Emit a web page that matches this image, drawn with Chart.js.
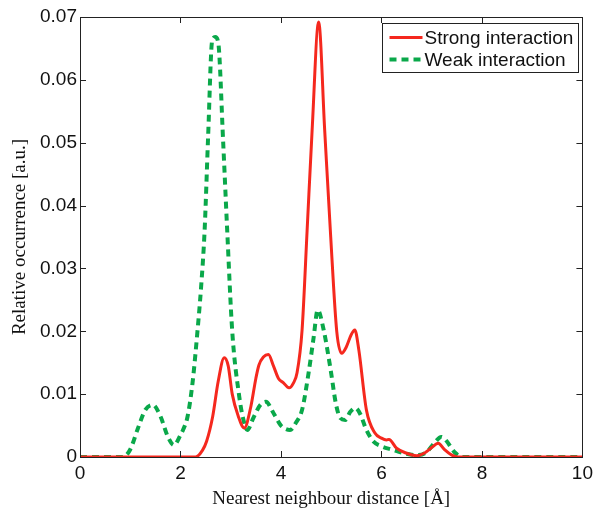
<!DOCTYPE html>
<html>
<head>
<meta charset="utf-8">
<script src="https://cdn.jsdelivr.net/npm/chart.js@4/dist/chart.umd.min.js"></script>
<style>
  html, body { margin: 0; padding: 0; background: #fff; }
  #wrap { width: 598px; height: 510px; }
</style>
</head>
<body>
<div id="wrap"><canvas id="grafico"></canvas></div>
<script>
// ================= DADOS =================
const xTicks = [0, 2, 4, 6, 8, 10];
const yTicks = [0, 0.01, 0.02, 0.03, 0.04, 0.05, 0.06, 0.07];

const distStrong = [0, 1, 2, 2.3, 2.44, 2.52, 2.64, 2.75, 2.87, 2.95, 3.03, 3.15, 3.27, 3.4, 3.5, 3.56, 3.65, 3.75, 3.85, 3.95, 4.05, 4.16, 4.25, 4.32, 4.42, 4.52, 4.62, 4.75, 4.87, 4.99, 5.11, 5.21, 5.3, 5.4, 5.47, 5.55, 5.7, 5.87, 6.0, 6.1, 6.15, 6.3, 6.5, 6.7, 6.85, 7.0, 7.13, 7.25, 7.4, 7.52, 8, 10];
const occStrong  = [0, 0, 0, 0, 0.0011, 0.0025, 0.0064, 0.012, 0.0158, 0.0145, 0.010, 0.0065, 0.0046, 0.008, 0.0125, 0.0146, 0.0159, 0.0163, 0.0145, 0.0125, 0.0118, 0.0110, 0.0118, 0.0134, 0.0202, 0.036, 0.052, 0.0692, 0.052, 0.035, 0.020, 0.0165, 0.0175, 0.0195, 0.0202, 0.017, 0.0075, 0.0038, 0.003, 0.0027, 0.0028, 0.0014, 0.0006, 0.0002, 0.0006, 0.0015, 0.0022, 0.0012, 0.0003, 0, 0, 0];

const distWeak = [0, 0.85, 1.0, 1.15, 1.3, 1.45, 1.6, 1.75, 1.87, 2.0, 2.05, 2.14, 2.24, 2.34, 2.41, 2.48, 2.55, 2.63, 2.69, 2.75, 2.85, 2.93, 3.03, 3.17, 3.25, 3.33, 3.45, 3.58, 3.7, 3.85, 4.0, 4.18, 4.3, 4.42, 4.55, 4.65, 4.73, 4.85, 4.99, 5.09, 5.18, 5.28, 5.38, 5.48, 5.58, 5.7, 5.85, 6.0, 6.2, 6.45, 6.7, 6.9, 7.05, 7.19, 7.3, 7.45, 7.62, 10];
const occWeak  = [0, 0, 0.0012, 0.0045, 0.0075, 0.0083, 0.0065, 0.0032, 0.0019, 0.0035, 0.0043, 0.0064, 0.0118, 0.0202, 0.027, 0.036, 0.051, 0.0662, 0.0668, 0.066, 0.050, 0.036, 0.020, 0.0096, 0.006, 0.0043, 0.0062, 0.0082, 0.0088, 0.0070, 0.0050, 0.0043, 0.0055, 0.0075, 0.0134, 0.019, 0.0234, 0.0202, 0.0138, 0.0086, 0.0062, 0.0059, 0.0072, 0.0078, 0.0068, 0.0043, 0.0024, 0.0017, 0.0012, 0.0006, 0.0003, 0.0008, 0.0022, 0.0032, 0.0025, 0.0008, 0, 0];

const nomes = ['Strong interaction', 'Weak interaction'];
const cores = ['#f5281e', '#0aa84a'];

const fonteSans = 'Liberation Sans, Arial, sans-serif';
const fonteSerif = 'Liberation Serif, Times New Roman, serif';

function pontos(xs, ys) {
  return xs.map((x, i) => ({ x: x, y: ys[i] }));
}

// ================= MOLDURA + TICKS PARA DENTRO =================
const molduraPlugin = {
  id: 'moldura',
  afterDraw(chart) {
    const { ctx, chartArea: a, scales } = chart;
    const tl = 6;
    ctx.save();
    ctx.strokeStyle = '#222';
    ctx.lineWidth = 1;
    ctx.beginPath();
    xTicks.forEach(v => {
      const px = Math.round(scales.x.getPixelForValue(v)) + 0.5;
      ctx.moveTo(px, a.bottom); ctx.lineTo(px, a.bottom - tl);
      ctx.moveTo(px, a.top); ctx.lineTo(px, a.top + tl);
    });
    yTicks.forEach(v => {
      const py = Math.round(scales.y.getPixelForValue(v)) + 0.5;
      ctx.moveTo(a.left, py); ctx.lineTo(a.left + tl, py);
      ctx.moveTo(a.right, py); ctx.lineTo(a.right - tl, py);
    });
    ctx.stroke();
    ctx.strokeRect(Math.round(a.left) + 0.5, Math.round(a.top) + 0.5,
      Math.round(a.right - a.left), Math.round(a.bottom - a.top));

    // legenda dentro da area
    const w = 196, h = 49;
    const bx = Math.round(a.right - w - 4) + 0.5, by = Math.round(a.top + 6) + 0.5;
    ctx.fillStyle = '#fff';
    ctx.fillRect(bx, by, w, h);
    ctx.strokeRect(bx, by, w, h);
    ctx.font = '19px ' + fonteSans;
    ctx.textBaseline = 'middle';
    chart.data.datasets.forEach((ds, i) => {
      const ly = by + 14 + i * 22;
      ctx.save();
      ctx.strokeStyle = ds.borderColor;
      ctx.lineWidth = ds.borderWidth;
      ctx.setLineDash(ds.borderDash || []);
      ctx.beginPath();
      ctx.moveTo(bx + 7, ly); ctx.lineTo(bx + 40, ly);
      ctx.stroke();
      ctx.restore();
      ctx.fillStyle = '#111';
      ctx.fillText(ds.label, bx + 42, ly + 1);
    });
    ctx.restore();
  }
};

// ================= GRAFICO =================
const ctx = document.getElementById('grafico').getContext('2d');
new Chart(ctx, {
  type: 'line',
  data: {
    datasets: [
      {
        label: nomes[0],
        data: pontos(distStrong, occStrong),
        borderColor: cores[0],
        borderWidth: 3,
        pointRadius: 0,
        cubicInterpolationMode: 'monotone',
        fill: false
      },
      {
        label: nomes[1],
        data: pontos(distWeak, occWeak),
        borderColor: cores[1],
        borderWidth: 4,
        borderDash: [7, 5],
        pointRadius: 0,
        cubicInterpolationMode: 'monotone',
        fill: false
      }
    ]
  },
  options: {
    responsive: true,
    maintainAspectRatio: false,
    animation: false,
    layout: { padding: { top: 17, right: 13, left: 0, bottom: 0 } },
    plugins: {
      legend: { display: false },
      tooltip: { enabled: false }
    },
    scales: {
      x: {
        type: 'linear',
        min: 0, max: 10,
        afterFit(scale) { scale.height = 53; },
        afterBuildTicks(scale) { scale.ticks = xTicks.map(v => ({ value: v })); },
        grid: { display: false, drawTicks: false },
        border: { display: false },
        ticks: {
          color: '#111',
          padding: 5,
          font: { family: fonteSans, size: 19 },
          callback: v => String(v)
        },
        title: {
          display: true,
          text: 'Nearest neighbour distance [Å]',
          color: '#111',
          font: { family: fonteSerif, size: 19 },
          padding: { top: 0, bottom: 0 }
        }
      },
      y: {
        min: 0, max: 0.07,
        afterFit(scale) { scale.width = 80; },
        afterBuildTicks(scale) { scale.ticks = yTicks.map(v => ({ value: v })); },
        grid: { display: false, drawTicks: false },
        border: { display: false },
        ticks: {
          color: '#111',
          padding: 3,
          font: { family: fonteSans, size: 19 },
          callback: v => (v === 0 ? '0' : v.toFixed(2))
        },
        title: {
          display: true,
          text: 'Relative occurrence [a.u.]',
          color: '#111',
          font: { family: fonteSerif, size: 19 },
          padding: { top: 9, bottom: 0 }
        }
      }
    }
  },
  plugins: [molduraPlugin]
});
</script>
</body>
</html>
